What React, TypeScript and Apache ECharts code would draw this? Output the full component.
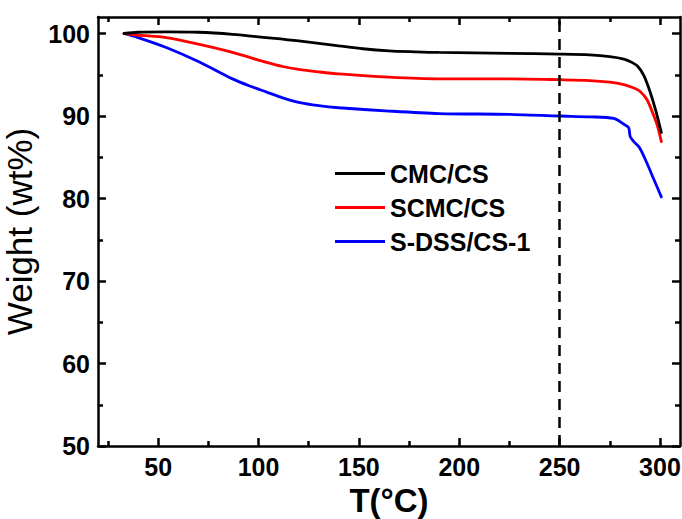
import React, { useEffect, useRef } from "react";
import * as echarts from "echarts";

const cmcCs: number[][] = [
  [33, 100.0], [40, 100.15], [54, 100.2], [70, 100.15], [87, 99.9], [104, 99.5], [120, 99.1],
  [140, 98.5], [152, 98.15], [165, 97.9], [178, 97.78], [190, 97.7], [225, 97.6], [250, 97.5],
  [265, 97.4], [275, 97.2], [282, 96.9], [286, 96.5], [289, 96.0], [292, 94.9], [295, 93.0],
  [298, 90.6], [300.7, 88.0],
];
const scmcCs: number[][] = [
  [33, 100.0], [40, 99.8], [54, 99.5], [70, 98.7], [87, 97.7], [104, 96.5], [112, 96.0],
  [120, 95.65], [130, 95.35], [140, 95.1], [165, 94.7], [190, 94.5], [225, 94.5], [250, 94.4],
  [265, 94.3], [275, 94.1], [282, 93.8], [287, 93.4], [290, 93.0], [293.5, 92.0], [297, 90.0],
  [299, 88.6], [300.7, 86.9],
];
const sdssCs1: number[][] = [
  [33, 100.0], [40, 99.5], [54, 98.3], [70, 96.6], [87, 94.5], [96, 93.6], [104, 92.9],
  [112, 92.2], [120, 91.65], [130, 91.25], [140, 91.0], [165, 90.6], [190, 90.3], [225, 90.2],
  [250, 90.0], [265, 89.9], [277, 89.7], [282, 89.0], [284.4, 88.6], [285.2, 87.5], [287, 86.9],
  [290, 86.1], [293.5, 84.3], [297, 82.3], [300.7, 80.2],
];
const seriesNames = ["CMC/CS", "SCMC/CS", "S-DSS/CS-1"];
const seriesColors = ["#000000", "#ff0000", "#0000ff"];
const xMajor = [50, 100, 150, 200, 250, 300];
const xMinor = [25, 75, 125, 175, 225, 275];
const yMajor = [50, 60, 70, 80, 90, 100];
const yMinor = [55, 65, 75, 85, 95];
const dashedAt = 250;

const FONT = "'Liberation Sans', Arial, sans-serif";

export default function App() {
  const ref = useRef<HTMLDivElement>(null);
  useEffect(() => {
    if (!ref.current) return;
    document.body.style.margin = "0";
    const chart = echarts.init(ref.current, undefined, { renderer: "svg" });
    const lineW = 2.5;
    const axisLine = { show: true, onZero: false, lineStyle: { color: "#000", width: lineW } };
    const mkX = (pos: string, ticks: number[], len: number, labels: boolean, line: boolean, name?: string) => ({
      type: "value",
      position: pos,
      min: 20,
      max: 310,
      axisLine: line ? axisLine : { show: false },
      axisTick: { show: true, inside: true, length: len, customValues: ticks, lineStyle: { color: "#000", width: lineW } },
      axisLabel: labels
        ? { show: true, customValues: xMajor, color: "#000", fontSize: 25, fontWeight: "bold", fontFamily: FONT, margin: 8 }
        : { show: false },
      splitLine: { show: false },
      name: name || "",
      nameLocation: "middle",
      nameGap: 35,
      nameTextStyle: { fontSize: 33, lineHeight: 34, fontWeight: "bold", fontFamily: FONT, color: "#000" },
    });
    const mkY = (pos: string, ticks: number[], len: number, labels: boolean, line: boolean, name?: string) => ({
      type: "value",
      position: pos,
      min: 50,
      max: 102,
      axisLine: line ? axisLine : { show: false },
      axisTick: { show: true, inside: true, length: len, customValues: ticks, lineStyle: { color: "#000", width: lineW } },
      axisLabel: labels
        ? { show: true, customValues: yMajor, color: "#000", fontSize: 25, fontWeight: "bold", fontFamily: FONT, margin: 8 }
        : { show: false },
      splitLine: { show: false },
      name: name || "",
      nameLocation: "middle",
      nameGap: 50,
      nameTextStyle: { fontSize: 35, fontFamily: FONT, color: "#000" },
    });
    const datasets = [cmcCs, scmcCs, sdssCs1];
    chart.setOption({
      animation: false,
      backgroundColor: "#fff",
      grid: { left: 98, right: 2, top: 17, bottom: 73, containLabel: false, outerBoundsMode: "none" },
      legend: {
        orient: "vertical",
        left: 330,
        top: 156,
        itemWidth: 50,
        itemHeight: 3,
        itemGap: 9,
        icon: "rect",
        data: seriesNames,
        textStyle: { fontSize: 25, fontWeight: "bold", fontFamily: FONT, color: "#000", lineHeight: 24 },
      },
      xAxis: [
        mkX("bottom", xMajor, 8, true, true, "T(°C)"),
        mkX("bottom", xMinor, 5, false, false),
        mkX("top", xMajor, 8, false, true),
        mkX("top", xMinor, 5, false, false),
      ],
      yAxis: [
        mkY("left", yMajor, 8, true, true, "Weight (wt%)"),
        mkY("left", yMinor, 5, false, false),
        mkY("right", yMajor, 8, false, true),
        mkY("right", yMinor, 5, false, false),
      ],
      series: datasets.map((d, i) => ({
        name: seriesNames[i],
        type: "line",
        xAxisIndex: 0,
        yAxisIndex: 0,
        data: d,
        smooth: 0.3,
        showSymbol: false,
        symbol: "none",
        lineStyle: { color: seriesColors[i], width: 2.8, cap: "round" },
        itemStyle: { color: seriesColors[i] },
        z: 3 - i,
        markLine:
          i === 0
            ? {
                silent: true,
                symbol: "none",
                label: { show: false },
                lineStyle: { color: "#000", width: 2.5, type: [11, 7] },
                data: [{ xAxis: dashedAt }],
              }
            : undefined,
      })),
    });
    return () => chart.dispose();
  }, []);
  return <div ref={ref} style={{ width: 682, height: 519 }} />;
}
